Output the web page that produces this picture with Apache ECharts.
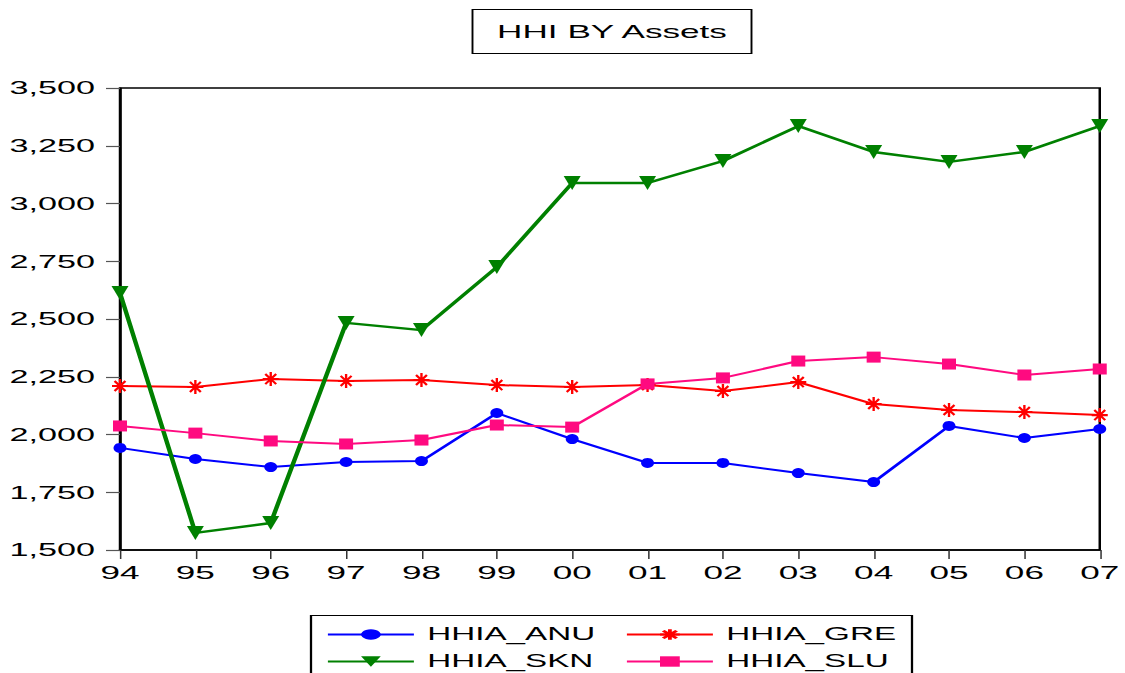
<!DOCTYPE html>
<html>
<head>
<meta charset="utf-8">
<script src="https://cdn.jsdelivr.net/npm/echarts@6/dist/echarts.min.js"></script>
<style>
html,body{margin:0;padding:0;background:#fff;overflow:hidden;}
#chart{height:673px;transform-origin:0 0;}
</style>
</head>
<body>
<div id="chart"></div>
<script>
// ---- data ----
const categories = ['94','95','96','97','98','99','00','01','02','03','04','05','06','07'];
const hhiaANU = [1942,1894,1859,1881,1885,2093,1980,1877,1877,1833,1794,2037,1985,2024];
const hhiaGRE = [2210,2206,2240,2232,2236,2214,2206,2214,2188,2227,2132,2106,2097,2084];
const hhiaSKN = [2613,1574,1617,2483,2452,2725,3089,3089,3184,3335,3223,3180,3223,3335];
const hhiaSLU = [2037,2006,1972,1959,1976,2041,2032,2219,2245,2318,2335,2305,2258,2284];
const seriesNames = ['HHIA_ANU','HHIA_GRE','HHIA_SKN','HHIA_SLU'];
const titleText = 'HHI BY Assets';

// horizontal stretch of the whole picture (the reference is drawn wide)
const S = 1.9;
const W = 1125 / S;
const el = document.getElementById('chart');
el.style.width = W + 'px';
el.style.transform = 'scaleX(' + S + ')';

const FONT = '"Liberation Sans", Arial, sans-serif';
const chart = echarts.init(el, null, {renderer: 'svg', width: W, height: 673});

const asterisk = 'path://M0,5L10,5M5,0L5,10M1.6,1.4L8.4,8.6M8.4,1.4L1.6,8.6';

function mkSeries(name, data, color, symbol, size, lw, extra) {
  return Object.assign({
    name: name, type: 'line', data: data, symbol: symbol, symbolSize: size,
    showSymbol: true, clip: false,
    lineStyle: {color: color, width: lw},
    itemStyle: {color: color, borderWidth: 0},
    emphasis: {disabled: true}
  }, extra || {});
}

function mkLegend(name, x, y) {
  return {
    data: [name], orient: 'horizontal',
    left: x / S, top: y, itemWidth: 86 / S, itemHeight: 13, itemGap: 0,
    textStyle: {fontSize: 17.5, color: '#000', fontFamily: FONT, padding: [0, 0, 0, 2]},
    padding: 0, selectedMode: false
  };
}

const option = {
  animation: false,
  backgroundColor: '#fff',
  textStyle: {fontFamily: FONT},
  grid: {
    left: 120 / S, right: 21 / S, top: 88, bottom: 123,
    show: true, borderColor: '#000', borderWidth: 1.3, backgroundColor: 'transparent'
  },
  xAxis: {
    type: 'category', data: categories, boundaryGap: false,
    axisLine: {lineStyle: {color: '#000', width: 1.5}},
    axisTick: {show: true, length: 9, lineStyle: {color: '#333', width: 0.8}},
    axisLabel: {color: '#000', fontSize: 18.5, fontFamily: FONT, margin: 13, interval: 0},
    splitLine: {show: false}
  },
  yAxis: {
    type: 'value', min: 1500, max: 3500, interval: 250,
    axisLine: {show: true, lineStyle: {color: '#000', width: 1.2}},
    axisTick: {show: true, length: 14 / S, lineStyle: {color: '#555', width: 1.2}},
    axisLabel: {color: '#000', fontSize: 18, fontFamily: FONT, margin: 25 / S,
      formatter: v => v.toLocaleString('en-US')},
    splitLine: {show: false}
  },
  legend: [
    mkLegend(seriesNames[0], 326, 625.5),
    mkLegend(seriesNames[2], 326, 652.5),
    mkLegend(seriesNames[1], 625, 625.5),
    mkLegend(seriesNames[3], 625, 652.5)
  ],
  graphic: [
    {type: 'rect', shape: {x: 472.5 / S, y: 9.5, width: 279 / S, height: 44},
     style: {fill: '#fff', stroke: '#000', lineWidth: 1}, z: 10},
    {type: 'text', x: 612 / S, y: 32, z: 11,
     style: {text: titleText, fill: '#000', font: '18.5px ' + FONT,
       textAlign: 'center', textVerticalAlign: 'middle'}},
    {type: 'rect', shape: {x: 311 / S, y: 615.5, width: 601 / S, height: 70},
     style: {fill: 'none', stroke: '#000', lineWidth: 1.2}, z: 10}
  ],
  series: [
    mkSeries(seriesNames[0], hhiaANU, '#0000ff', 'circle', [13 / S, 10], 2),
    mkSeries(seriesNames[1], hhiaGRE, '#ff0000', asterisk, [16 / S, 14], 2,
      {itemStyle: {color: '#ff0000', borderColor: '#ff0000', borderWidth: 1.6}}),
    mkSeries(seriesNames[2], hhiaSKN, '#008000', 'triangle', [17 / S, 14], 2.4,
      {symbolRotate: 180}),
    mkSeries(seriesNames[3], hhiaSLU, '#ff0a80', 'rect', [14 / S, 11], 2)
  ]
};
chart.setOption(option);
</script>
</body>
</html>
